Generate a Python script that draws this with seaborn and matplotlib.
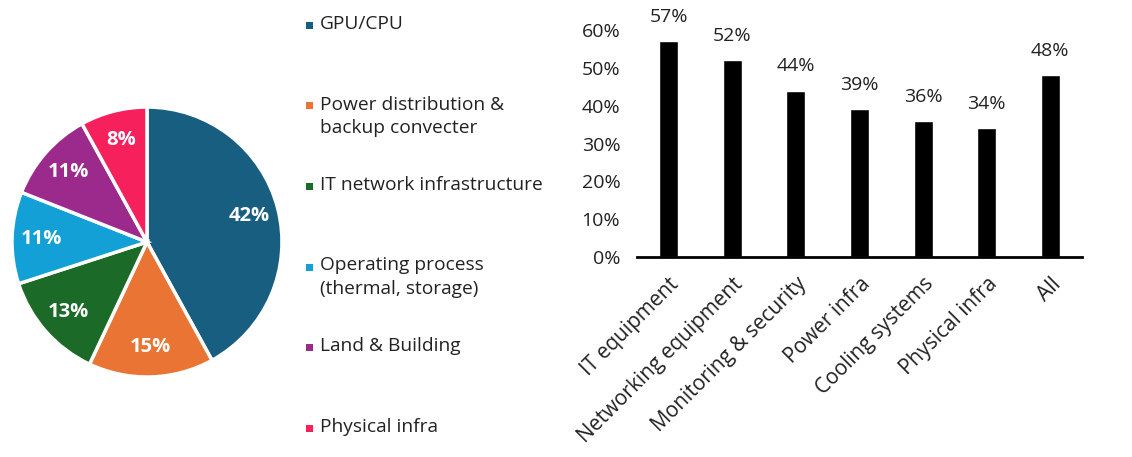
import matplotlib
matplotlib.use("Agg")
import matplotlib.pyplot as plt
from matplotlib.patches import Rectangle
import pandas as pd
import seaborn as sns

sns.set_theme(style="white")
plt.rcParams['font.family'] = ['Open Sans', 'DejaVu Sans']

# pie data: cost breakdown
pie_labels = ['GPU/CPU', 'Power distribution &\nbackup convecter', 'IT network infrastructure',
              'Operating process\n(thermal, storage)', 'Land & Building', 'Physical infra']
pie_values = [42, 15, 13, 11, 11, 8]
pie_colors = ['#175e80', '#e97434', '#1c6a27', '#12a0d7', '#9b2a8c', '#f5205c']

# bar data
bar_cats = ['IT equipment', 'Networking equipment', 'Monitoring & security', 'Power infra',
            'Cooling systems', 'Physical infra', 'All']
bar_vals = [57, 52, 44, 39, 36, 34, 48]

fig = plt.figure(figsize=(11.32, 4.57), dpi=100)

# ---- pie ----
ax_pie = fig.add_axes([0.0106, 0.175, 0.2385, 0.5908])
wedges, texts, autotexts = ax_pie.pie(
    pie_values, colors=pie_colors, startangle=90, counterclock=False,
    autopct='%d%%', pctdistance=0.78,
    wedgeprops=dict(edgecolor='white', linewidth=2.5, clip_on=False),
    textprops=dict(color='white', fontsize=14.5, fontweight='bold'))
ax_pie.set_xlim(-1.0, 1.0)
ax_pie.set_ylim(-1.0, 1.0)
ax_pie.set_aspect('equal')

# legend drawn by hand (entries top-aligned on an even step)
W, H = 1132, 457
for i, (lab, col) in enumerate(zip(pie_labels, pie_colors)):
    y_top = 15 + i * 80.5
    fig.add_artist(Rectangle((306 / W, 1 - (y_top + 14) / H), 7 / W, 7 / H,
                             transform=fig.transFigure, facecolor=col, edgecolor='none'))
    fig.text(320 / W, 1 - y_top / H, lab, ha='left', va='top', fontsize=13.8,
             color='#222222', linespacing=1.4)

# ---- bars ----
ax_bar = fig.add_axes([0.5627, 0.4376, 0.3931, 0.4967])
df = pd.DataFrame({'cat': bar_cats, 'val': bar_vals})
sns.barplot(data=df, x='cat', y='val', color='black', width=0.3, ax=ax_bar, saturation=1)
ax_bar.bar_label(ax_bar.containers[0], labels=[f'{v}%' for v in bar_vals],
                 padding=11, fontsize=14, color='#222222')
ax_bar.set_ylim(0, 60)
ax_bar.set_xlim(-0.5, len(bar_cats) - 0.5)
ax_bar.set_yticks(range(0, 61, 10))
ax_bar.set_yticklabels([f'{t}%' for t in range(0, 61, 10)], fontsize=14, color='#222222')
ax_bar.set_xticks(range(len(bar_cats)))
ax_bar.set_xticklabels(bar_cats, rotation=45, ha='right', rotation_mode='anchor',
                       fontsize=15, color='#222222')
ax_bar.tick_params(axis='both', length=0)
ax_bar.tick_params(axis='y', pad=12)
ax_bar.tick_params(axis='x', pad=12)
ax_bar.set_xlabel('')
ax_bar.set_ylabel('')
for s in ['top', 'right', 'left']:
    ax_bar.spines[s].set_visible(False)
ax_bar.spines['bottom'].set_color('black')
ax_bar.spines['bottom'].set_linewidth(2)
ax_bar.patch.set_alpha(0)

fig.savefig('out.png', dpi=100)
